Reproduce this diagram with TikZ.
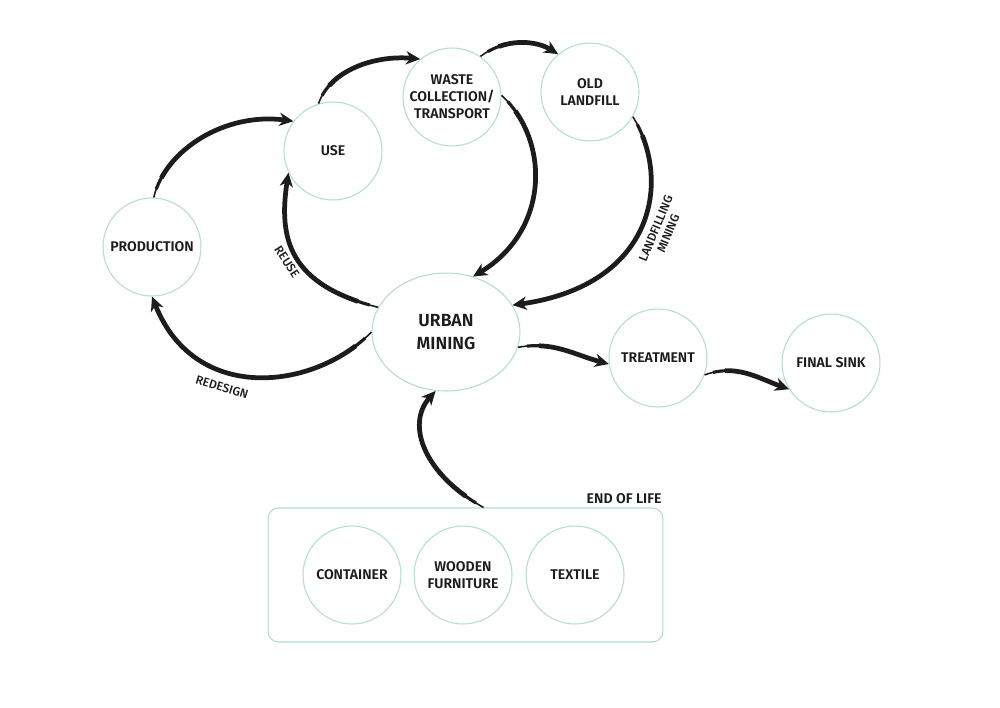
\documentclass[tikz,border=0pt]{standalone}
\usepackage{fontspec}
\setmainfont{Fira Sans}[BoldFont={Fira Sans SemiBold}]
\newfontfamily\lblfont{Fira Sans Medium}
\usetikzlibrary{arrows.meta,shapes.geometric}
\definecolor{mint}{RGB}{178,222,204}
\definecolor{ink}{RGB}{28,28,28}
\begin{document}
\begin{tikzpicture}[x=0.02cm,y=-0.02cm,
  stg/.style={circle,draw=mint,line width=0.6pt,minimum size=1.96cm,inner sep=0pt,
    align=center,text=ink,font=\bfseries\fontsize{8}{9.7}\selectfont},
  lbl/.style={text=ink,align=center,inner sep=0pt,font=\lblfont\fontsize{6.9}{7.6}\selectfont},
  flow/.style={draw=ink,line width=0.9pt,shorten >=5pt,
    postaction={draw=ink,line width=1.8pt,dash pattern=on 0pt off 5pt on 2000pt},
    postaction={draw=ink,line width=2.7pt,shorten >=0pt,dash pattern=on 0pt off 12pt on 2000pt,
      -{Stealth[length=8pt,width=7.5pt,inset=2.5pt]}}}]
\useasboundingbox (0,0) rectangle (1000,707);
\fill[white] (0,0) rectangle (1000,707);

% nodes
\node[stg] (waste) at (452,97) {WASTE\\COLLECTION/\\TRANSPORT};
\node[stg] (land)  at (590,92) {OLD\\LANDFILL};
\node[stg] (use)   at (333,151) {USE};
\node[stg] (prod)  at (152,247) {PRODUCTION};
\node[ellipse,draw=mint,line width=0.6pt,minimum width=2.96cm,minimum height=2.36cm,
  inner sep=0pt,align=center,text=ink,font=\bfseries\fontsize{10}{12.6}\selectfont]
  (urban) at (446,332) {URBAN\\MINING};
\node[stg] (treat) at (658,358) {TREATMENT};
\node[stg] (sink)  at (831,363) {FINAL SINK};

\node[rectangle,rounded corners=6pt,draw=mint,line width=0.6pt,minimum width=7.9cm,
  minimum height=2.68cm] (eol) at (465.5,575) {};
\node[anchor=south east,inner sep=0pt,text=ink,font=\bfseries\fontsize{8}{9.7}\selectfont]
  (eollbl) at (662,504) {END OF LIFE};
\node[stg] (cont) at (352,575) {CONTAINER};
\node[stg] (wood) at (463,575) {WOODEN\\FURNITURE};
\node[stg] (text) at (575,575) {TEXTILE};

% connectors
\draw[flow] (prod.88) .. controls (165,150) and (225,112) .. (use.143);
\draw[flow] (use.107) .. controls (330,70) and (375,55) .. (waste.130);
\draw[flow] (waste.55) .. controls (505,38) and (535,40) .. (land.130);
\draw[flow] (waste.2) .. controls (550,140) and (550,230) .. (urban.64);
\draw[flow] (land.-30) .. controls (672,180) and (655,285) .. (urban.22);
\draw[flow] (urban.160) .. controls (290,285) and (278,240) .. (use.206);
\draw[flow] (urban.180) .. controls (315,390) and (195,405) .. (prod.-90);
\draw[flow] (urban.-12) to[out=10,in=165] (treat.187);
\draw[flow] (treat.-20) to[out=20,in=160] (sink.212);
\draw[flow] (eol.75) .. controls (425,475) and (405,425) .. (urban.-100);

% labels
\node[lbl,rotate=-57] (reuse) at (287,262) {REUSE};
\node[lbl,rotate=-17] (redesign) at (222,387) {REDESIGN};
\node[lbl,rotate=67.5] (lfm) at (662,231) {LANDFILLING\\MINING};
\end{tikzpicture}
\end{document}
